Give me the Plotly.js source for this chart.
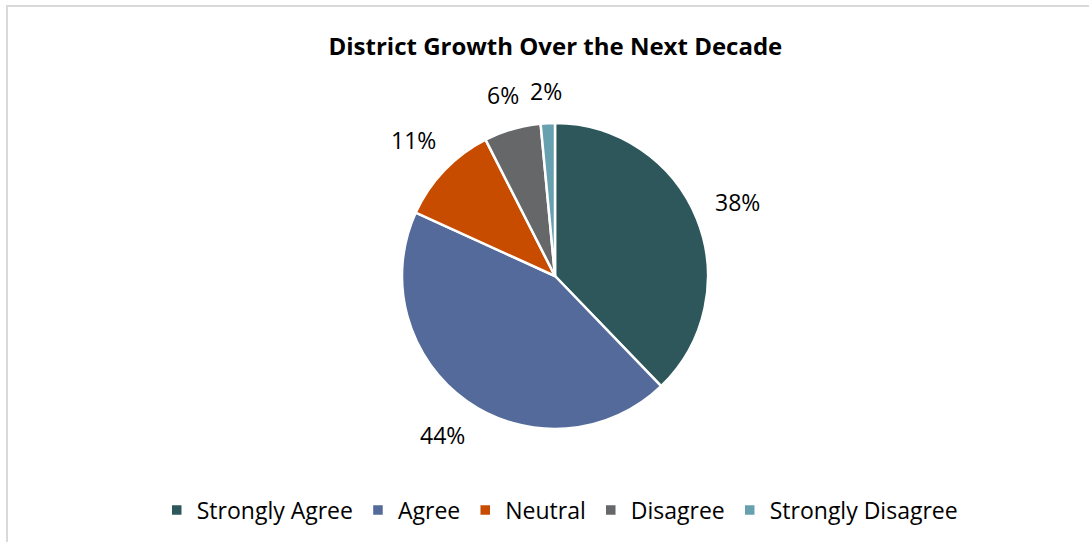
<!DOCTYPE html>
<html>
<head>
<meta charset="utf-8">
<script src="https://cdn.plot.ly/plotly-3.0.1.min.js"></script>
<style>
  html, body { margin: 0; padding: 0; background: #fff; overflow: hidden; }
  #chart { width: 1089px; height: 542px; position: absolute; left: 0; top: 0; }
  #frame { position: absolute; left: 6px; top: 5px; width: 1200px; height: 700px;
           border-top: 2px solid #d9d9d9; border-left: 2px solid #d9d9d9; pointer-events: none; }
</style>
</head>
<body>
<div id="chart"></div>
<div id="frame"></div>
<script>
const categories = ["Strongly Agree", "Agree", "Neutral", "Disagree", "Strongly Disagree"];
const shares = [37.8, 44.0, 10.7, 6.0, 1.5];
const colors = ["#2D575B", "#536A9B", "#C84C00", "#666769", "#67A0AF"];
const chartTitle = "District Growth Over the Next Decade";

const FONT = "Open Sans, Noto Sans, sans-serif";
const W = 1089, H = 542;
// pie placement (pixels)
const cx = 555, cy = 276, R = 153;
const LABEL_SIZE = 23;

const trace = {
  type: "pie",
  labels: categories,
  values: shares,
  sort: false,
  direction: "clockwise",
  rotation: 0,
  marker: { colors: colors, line: { color: "#ffffff", width: 2.5 } },
  textinfo: "none",
  hoverinfo: "label+percent",
  domain: { x: [(cx - R) / W, (cx + R) / W], y: [(H - cy - R) / H, (H - cy + R) / H] }
};

// data labels outside the slices, placed from each slice's mid-angle
const total = shares.reduce((a, b) => a + b, 0);
const annotations = [];
let cum = 0;
shares.forEach((v, i) => {
  const mid = (cum + v / 2) / total * 2 * Math.PI;
  cum += v;
  const txt = Math.round(v / total * 100) + "%";
  const dx = Math.sin(mid), dy = -Math.cos(mid);
  const hw = txt.length * LABEL_SIZE * 0.31, hh = LABEL_SIZE * 0.5;
  const support = Math.abs(dx) * hw + Math.abs(dy) * hh;
  const d = R + 20 + support;
  const px = cx + dx * d, py = cy + dy * d;
  annotations.push({
    text: txt, showarrow: false,
    x: px / W, y: 1 - py / H, xref: "paper", yref: "paper",
    xanchor: "center", yanchor: "middle",
    font: { family: FONT, size: LABEL_SIZE, color: "#000" }
  });
});

const layout = {
  width: W,
  height: H,
  margin: { l: 0, r: 0, t: 0, b: 0 },
  paper_bgcolor: "#ffffff",
  font: { family: FONT, color: "#000" },
  title: {
    text: "<b>" + chartTitle + "</b>",
    font: { family: FONT, size: 24, color: "#000" },
    x: 0.51, xanchor: "center",
    y: 1 - 47 / H, yanchor: "middle",
    xref: "paper", yref: "container"
  },
  annotations: annotations,
  showlegend: true,
  legend: {
    orientation: "h",
    x: 0.514, xanchor: "center",
    y: 1 - 510 / H, yanchor: "middle",
    font: { family: FONT, size: 23, color: "#000" },
    itemwidth: 30,
    traceorder: "normal"
  }
};

Plotly.newPlot("chart", [trace], layout, { displayModeBar: false, staticPlot: true });
</script>
</body>
</html>
